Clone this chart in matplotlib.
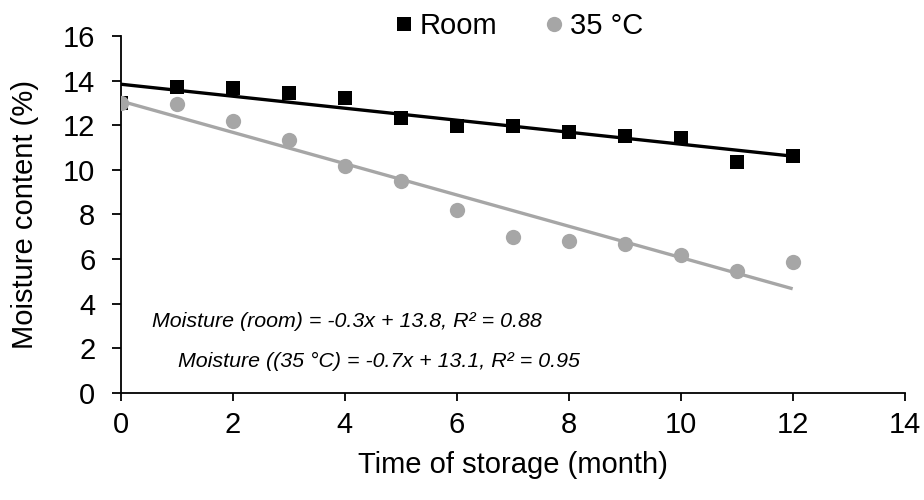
import numpy as np
import matplotlib
matplotlib.use("Agg")
import matplotlib.pyplot as plt
from matplotlib.lines import Line2D

plt.rcParams['font.family'] = ['Liberation Sans', 'DejaVu Sans']

months = [0, 1, 2, 3, 4, 5, 6, 7, 8, 9, 10, 11, 12]
room = [13.0, 13.7, 13.65, 13.45, 13.2, 12.3, 11.98, 11.98, 11.7, 11.53, 11.42, 10.36, 10.63]
hot35 = [13.0, 12.95, 12.2, 11.35, 10.18, 9.48, 8.2, 6.98, 6.8, 6.68, 6.17, 5.45, 5.87]
series_labels = ["Room", "35 °C"]
eq_labels = ["Moisture (room) = -0.3x + 13.8, R² = 0.88",
             "Moisture ((35 °C) = -0.7x + 13.1, R² = 0.95"]

gray = "#A6A6A6"
fs = 21

fig = plt.figure(figsize=(9.24, 5.0), dpi=100)
ax = fig.add_axes([0.131, 0.2146, 0.848, 0.7134])

x = np.array(months, dtype=float)
for y, color, marker, ms in [(room, "black", "s", 10), (hot35, gray, "o", 11)]:
    y = np.array(y)
    k, b = np.polyfit(x, y, 1)
    xx = np.array([x.min(), x.max()])
    ax.plot(xx, k * xx + b, color=color, lw=2.4, zorder=2, solid_capstyle="butt")
    ax.plot(x, y, linestyle="none", marker=marker, ms=ms, color=color,
            markeredgewidth=0, zorder=3)

ax.set_xlim(0, 14)
ax.set_ylim(0, 16)
ax.set_xticks(range(0, 15, 2))
ax.set_yticks(range(0, 17, 2))
ax.tick_params(labelsize=fs, direction="out", width=1.3)
ax.tick_params(axis="x", length=5.5, pad=8)
ax.tick_params(axis="y", length=6.5, pad=12)
for s in ["top", "right"]:
    ax.spines[s].set_visible(False)
for s in ["left", "bottom"]:
    ax.spines[s].set_linewidth(1.3)

ax.set_xlabel("Time of storage (month)", fontsize=fs, labelpad=8)
ax.set_ylabel("Moisture content (%)", fontsize=fs, labelpad=17)

ax.text(4.04, 3.19, eq_labels[0], fontsize=15.4, style="italic", ha="center", va="center")
ax.text(4.60, 1.42, eq_labels[1], fontsize=15.4, style="italic", ha="center", va="center")

handles = [Line2D([], [], ls="none", marker="s", ms=10, color="black", markeredgewidth=0),
           Line2D([], [], ls="none", marker="o", ms=11, color=gray, markeredgewidth=0)]
fig.legend(handles, series_labels, loc="center", bbox_to_anchor=(0.559, 0.948),
           ncol=2, frameon=False, fontsize=fs, handletextpad=0.05,
           columnspacing=1.45, handlelength=1.0, borderpad=0)

fig.savefig("out.png", dpi=100)
